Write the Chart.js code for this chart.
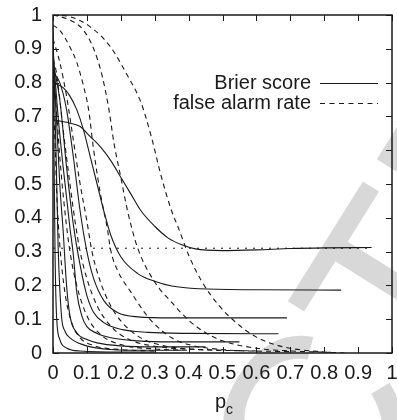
<!DOCTYPE html>
<html>
<head>
<meta charset="utf-8">
<script src="https://cdn.jsdelivr.net/npm/chart.js@4/dist/chart.umd.min.js"></script>
<style>
  html, body { margin: 0; padding: 0; background: #fff; }
  #wrap { width: 397px; height: 420px; }
</style>
</head>
<body>
<div id="wrap"><canvas id="chart" width="397" height="420"></canvas></div>
<script>
// Brier score curves, [p_c, score]
const brier1 = [[0,0.69],[0.05,0.68],[0.08,0.67],[0.11,0.64],[0.14,0.61],[0.17,0.57],[0.2,0.52],[0.23,0.47],[0.26,0.42],[0.3,0.375],[0.34,0.34],[0.38,0.32],[0.42,0.308],[0.5,0.303],[0.6,0.305],[0.7,0.309],[0.8,0.311],[0.94,0.312]];
const brier2 = [[0,0.8],[0.03,0.785],[0.05,0.76],[0.07,0.72],[0.09,0.66],[0.11,0.58],[0.13,0.5],[0.15,0.42],[0.17,0.35],[0.2,0.285],[0.25,0.235],[0.3,0.212],[0.35,0.198],[0.43,0.19],[0.6,0.187],[0.85,0.186]];
const brier3 = [[0,0.83],[0.02,0.8],[0.04,0.72],[0.06,0.58],[0.08,0.42],[0.1,0.3],[0.12,0.22],[0.15,0.155],[0.19,0.12],[0.25,0.107],[0.35,0.104],[0.69,0.104]];
const brier4 = [[0,0.86],[0.02,0.75],[0.04,0.55],[0.06,0.38],[0.08,0.26],[0.1,0.17],[0.12,0.12],[0.15,0.09],[0.2,0.07],[0.28,0.061],[0.4,0.058],[0.665,0.057]];
const brier5 = [[0,0.89],[0.015,0.7],[0.03,0.55],[0.05,0.37],[0.06,0.29],[0.07,0.18],[0.085,0.11],[0.1,0.078],[0.13,0.058],[0.17,0.045],[0.25,0.036],[0.35,0.033],[0.55,0.033]];
const brier6 = [[0,0.91],[0.01,0.7],[0.02,0.5],[0.03,0.36],[0.04,0.2],[0.05,0.11],[0.07,0.06],[0.1,0.04],[0.13,0.03],[0.2,0.021],[0.3,0.018],[0.45,0.018]];
const brier7 = [[0,0.94],[0.005,0.75],[0.01,0.55],[0.015,0.32],[0.025,0.11],[0.035,0.065],[0.05,0.045],[0.09,0.024],[0.15,0.012],[0.25,0.008],[0.38,0.008]];
const brier8 = [[0,0.97],[0.003,0.6],[0.006,0.3],[0.01,0.12],[0.02,0.04],[0.04,0.015],[0.08,0.006],[0.2,0.003],[0.3,0.003]];

// false alarm rate curves, [p_c, rate]
const far1 = [[0,1],[0.05,0.995],[0.11,0.965],[0.17,0.905],[0.22,0.82],[0.26,0.74],[0.29,0.64],[0.32,0.52],[0.35,0.42],[0.37,0.37],[0.4,0.29],[0.44,0.21],[0.49,0.14],[0.54,0.09],[0.6,0.047],[0.68,0.018],[0.8,0.003],[0.86,0]];
const far2 = [[0,1],[0.05,0.985],[0.09,0.955],[0.12,0.9],[0.145,0.82],[0.165,0.72],[0.18,0.62],[0.2,0.52],[0.22,0.42],[0.25,0.31],[0.3,0.21],[0.35,0.15],[0.4,0.097],[0.45,0.06],[0.5,0.036],[0.6,0.014],[0.7,0.006],[0.82,0.002]];
const far3 = [[0,0.97],[0.02,0.955],[0.05,0.905],[0.07,0.86],[0.09,0.79],[0.105,0.72],[0.12,0.6],[0.14,0.47],[0.16,0.37],[0.17,0.305],[0.19,0.245],[0.23,0.18],[0.27,0.12],[0.3,0.085],[0.35,0.045],[0.4,0.025],[0.5,0.01],[0.7,0.004]];
const far4 = [[0,0.93],[0.02,0.86],[0.04,0.76],[0.06,0.63],[0.08,0.5],[0.1,0.39],[0.115,0.3],[0.14,0.21],[0.17,0.14],[0.2,0.095],[0.25,0.05],[0.3,0.028],[0.4,0.012],[0.6,0.006]];
const far5 = [[0,0.87],[0.01,0.83],[0.03,0.66],[0.05,0.5],[0.065,0.39],[0.08,0.3],[0.1,0.22],[0.13,0.14],[0.17,0.08],[0.22,0.042],[0.3,0.02],[0.5,0.008]];
const far6 = [[0,0.82],[0.01,0.72],[0.02,0.58],[0.035,0.42],[0.05,0.3],[0.07,0.2],[0.1,0.11],[0.14,0.055],[0.2,0.025],[0.3,0.012],[0.4,0.008]];
const far7 = [[0,0.78],[0.005,0.65],[0.012,0.45],[0.02,0.32],[0.035,0.18],[0.055,0.09],[0.08,0.045],[0.12,0.022],[0.2,0.01],[0.3,0.006]];

// climatological reference level
const refLevel = [[0,0.31],[0.94,0.31]];

const xTicks = [0,0.1,0.2,0.3,0.4,0.5,0.6,0.7,0.8,0.9,1];
const yTicks = [0,0.1,0.2,0.3,0.4,0.5,0.6,0.7,0.8,0.9,1];
const legendLabels = ['Brier score', 'false alarm rate'];
const watermark = 'UNCORRECTED PROOF';

const FONT = '"Liberation Sans", Arial, Helvetica, sans-serif';
const INK = '#1a1a1a';

function pts(arr) { return arr.map(p => ({x: p[0], y: p[1]})); }

function line(arr, dash) {
  return {
    data: pts(arr),
    borderColor: INK,
    borderWidth: 1.1,
    borderDash: dash,
    pointRadius: 0,
    fill: false,
    tension: 0.4,
    cubicInterpolationMode: 'monotone'
  };
}

const solid = [brier1, brier2, brier3, brier4, brier5, brier6, brier7, brier8];
const dashed = [far1, far2, far3, far4, far5, far6, far7];

const datasets = [];
solid.forEach(a => datasets.push(line(a, [])));
dashed.forEach(a => datasets.push(line(a, [5, 4])));
const ref = line(refLevel, [2, 6]);
ref.tension = 0;
ref.borderWidth = 1;
datasets.push(ref);

// faint diagonal stamp behind everything
const stampPlugin = {
  id: 'stamp',
  beforeDraw(chart) {
    const ctx = chart.ctx;
    const size = 250;
    ctx.save();
    ctx.font = size + 'px ' + FONT;
    ctx.textAlign = 'left';
    ctx.textBaseline = 'alphabetic';
    ctx.fillStyle = '#d8d8d8';
    const th = -58 * Math.PI / 180;
    const before = ctx.measureText(watermark.slice(0, watermark.indexOf('CT') + 1)).width;
    const wT = ctx.measureText('T').width;
    // centre of the T cross bar
    const lx = before + wT / 2, ly = -size * 0.716 + 10;
    const ox = 328 - (lx * Math.cos(th) - ly * Math.sin(th));
    const oy = 243 - (lx * Math.sin(th) + ly * Math.cos(th));
    ctx.translate(ox, oy);
    ctx.rotate(th);
    ctx.fillText(watermark, 0, 0);
    ctx.restore();
  }
};

// box, inward ticks on all sides, legend and axis title
const framePlugin = {
  id: 'frame',
  afterDraw(chart) {
    const ctx = chart.ctx;
    const a = chart.chartArea;
    const xs = chart.scales.x, ys = chart.scales.y;
    ctx.save();
    ctx.strokeStyle = INK;
    ctx.lineWidth = 1;
    ctx.beginPath();
    xTicks.forEach(v => {
      const px = Math.round(xs.getPixelForValue(v)) + 0.5;
      ctx.moveTo(px, a.bottom); ctx.lineTo(px, a.bottom - 6);
      ctx.moveTo(px, a.top); ctx.lineTo(px, a.top + 6);
    });
    yTicks.forEach(v => {
      const py = Math.round(ys.getPixelForValue(v)) + 0.5;
      ctx.moveTo(a.left, py); ctx.lineTo(a.left + 6, py);
      ctx.moveTo(a.right, py); ctx.lineTo(a.right - 6, py);
    });
    ctx.stroke();
    ctx.lineWidth = 1.5;
    ctx.strokeRect(a.left, a.top, a.right - a.left, a.bottom - a.top);

    // legend
    ctx.font = '20px ' + FONT;
    ctx.fillStyle = INK;
    ctx.textAlign = 'right';
    ctx.textBaseline = 'middle';
    const rows = [83, 103];
    legendLabels.forEach((t, i) => {
      ctx.fillText(t, 311, rows[i]);
      ctx.beginPath();
      ctx.lineWidth = 1.1;
      ctx.setLineDash(i === 0 ? [] : [5, 4.5]);
      ctx.moveTo(320, rows[i] + 0.5);
      ctx.lineTo(378, rows[i] + 0.5);
      ctx.stroke();
    });
    ctx.setLineDash([]);

    // axis title p_c
    ctx.textAlign = 'left';
    ctx.textBaseline = 'alphabetic';
    ctx.font = '20px ' + FONT;
    ctx.fillText('p', 215, 408);
    ctx.font = '14px ' + FONT;
    ctx.fillText('c', 226, 414);
    ctx.restore();
  }
};

const tickFont = { family: FONT, size: 20 };

new Chart(document.getElementById('chart'), {
  type: 'line',
  data: { datasets: datasets },
  plugins: [stampPlugin, framePlugin],
  options: {
    responsive: false,
    animation: false,
    events: [],
    layout: { padding: { top: 15, right: 5, left: 0, bottom: 0 } },
    plugins: { legend: { display: false }, tooltip: { enabled: false } },
    scales: {
      x: {
        type: 'linear', min: 0, max: 1,
        afterFit: s => { s.height = 67; s.paddingLeft = 0; s.paddingRight = 0; },
        afterBuildTicks: s => { s.ticks = xTicks.map(v => ({value: v})); },
        grid: { display: false, drawTicks: false },
        border: { display: false },
        ticks: {
          padding: 8, color: INK, maxRotation: 0, autoSkip: false,
          font: tickFont,
          callback: v => String(v)
        }
      },
      y: {
        type: 'linear', min: 0, max: 1,
        afterFit: s => { s.width = 53; s.paddingTop = 0; s.paddingBottom = 0; },
        afterBuildTicks: s => { s.ticks = yTicks.map(v => ({value: v})); },
        grid: { display: false, drawTicks: false },
        border: { display: false },
        ticks: {
          padding: 11, color: INK, autoSkip: false,
          font: tickFont,
          callback: v => String(v)
        }
      }
    }
  }
});
</script>
</body>
</html>
